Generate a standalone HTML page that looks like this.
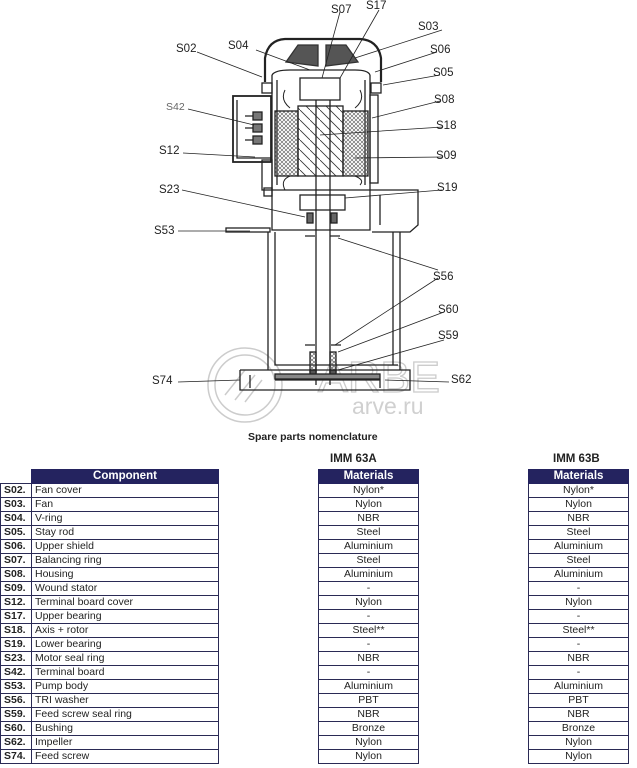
<!DOCTYPE html>
<html><head><meta charset="utf-8"><style>
html,body{margin:0;padding:0;background:#fff;width:637px;height:768px;overflow:hidden;position:relative;font-family:"Liberation Sans",sans-serif;}
.t{position:absolute;border-collapse:collapse;font-size:10.5px;color:#222;}
.t td{height:13px;padding:0 0 0 3px;border:1px solid #2a2a55;line-height:13px;white-space:nowrap;}
.t th{height:13px;background:#24235f;color:#fff;font-size:11.5px;border:1px solid #24235f;line-height:13px;padding:0;}
.c{text-align:center;padding:0!important}
.code{font-weight:bold;width:27px;}
.h{position:absolute;font-weight:bold;font-size:11.5px;color:#222;}
</style></head><body>
<svg width="637" height="450" style="position:absolute;left:0;top:0" xmlns="http://www.w3.org/2000/svg">
<defs>
<pattern id="x" width="4" height="4" patternUnits="userSpaceOnUse"><path d="M0 0L4 4M4 0L0 4" stroke="#555" stroke-width="0.6"/></pattern>
<pattern id="d" width="10" height="10" patternUnits="userSpaceOnUse"><path d="M0 0L10 10" stroke="#333" stroke-width="0.8"/></pattern>
</defs>
<g fill="none" stroke="#222" stroke-width="1.3">
<g stroke="#ccc" stroke-width="1.5">
<circle cx="245" cy="385" r="37"/><circle cx="245" cy="385" r="30"/>
<path d="M225 395 L245 370 M235 400 L255 375 M245 402 L262 380"/>
</g>
<text x="318" y="392" font-size="44" fill="none" stroke="#ccc" font-family="Liberation Sans" textLength="122" lengthAdjust="spacingAndGlyphs">ARBE</text>
<text x="352" y="414" font-size="23" fill="#d0d0d0" stroke="none" font-family="Liberation Sans">arve.ru</text>
<path d="M265 82 L265 58 Q268 40 285 39 L360 39 Q378 40 381 58 L381 82" stroke-width="2.2"/>
<path d="M286 62 L298 45 L318 45 L318 66 Z M358 62 L346 45 L326 45 L326 66 Z" fill="#555" stroke="#333"/>
<path d="M272 75 Q275 70 290 70 L355 70 Q368 70 370 75"/>
<rect x="262" y="83" width="10" height="10"/><rect x="371" y="83" width="10" height="10"/>
<path d="M272 75 L272 190 L370 190 L370 75"/>
<path d="M277 80 L277 185 M365 80 L365 185"/>
<rect x="300" y="78" width="40" height="22"/>
<rect x="275" y="111" width="23" height="65" fill="url(#x)"/>
<rect x="343" y="111" width="25" height="65" fill="url(#x)"/>
<rect x="298" y="106" width="45" height="70" fill="url(#d)"/>
<path d="M285 90 Q280 100 290 108 M285 190 Q280 180 290 176 M360 90 Q365 100 355 108 M360 185 Q365 180 355 176" stroke-width="1"/>
<rect x="370" y="95" width="8" height="88"/>
<rect x="233" y="96" width="38" height="66" stroke-width="1.8"/>
<path d="M237 100 L237 158 L271 158"/>
<rect x="253" y="112" width="9" height="8" fill="#777"/><rect x="253" y="124" width="9" height="8" fill="#777"/><rect x="253" y="136" width="9" height="8" fill="#777"/>
<path d="M245 116 L253 116 M245 128 L253 128 M245 140 L253 140"/>
<rect x="262" y="160" width="10" height="30"/>
<rect x="264" y="188" width="8" height="8"/>
<path d="M272 190 L272 230 L370 230 L370 190 M370 190 L418 190 L418 225 L410 232 L400 232 L400 370 M380 195 L380 225 M372 232 L400 232"/>
<path d="M268 232 L268 370 M275 232 L275 365 L398 365 M393 232 L393 365"/>
<rect x="226" y="228" width="44" height="4"/>
<rect x="300" y="195" width="45" height="15"/>
<rect x="307" y="213" width="6" height="10" fill="#666"/><rect x="331" y="213" width="6" height="10" fill="#666"/>
<path d="M305 236 L315 236 M330 236 L340 236"/>
<path d="M316 100 L316 385 M330 100 L330 385"/>
<path d="M305 345 L315 345 M331 345 L341 345"/>
<rect x="310" y="352" width="6" height="20" fill="url(#x)"/><rect x="330" y="352" width="6" height="20" fill="url(#x)"/>
<rect x="310" y="370" width="6" height="7" fill="#555"/><rect x="330" y="370" width="6" height="7" fill="#555"/>
<path d="M240 370 L240 390 L410 390 L410 370 L240 370"/>
<rect x="275" y="374" width="105" height="5" fill="#888"/>
<path d="M250 375 L250 388 M275 380 L380 380 L380 388"/>
<g stroke-width="0.8">
<path d="M197 52 L262 77 M256 50 L310 70 M340 12 L322 78 M379 10 L340 78 M442 30 L355 58 M437 52 L375 72 M440 75 L383 85 M440 101 L372 118 M443 127 L320 135 M443 157 L355 158 M442 190 L345 198 M188 109 L254 125 M183 153 L255 157 M182 190 L305 217 M178 231 L250 231 M438 270 L338 238 M438 278 L335 345 M444 312 L338 352 M444 340 L338 370 M449 382 L385 380 M178 382 L240 380"/>
</g>
</g>
<g font-family="Liberation Sans" font-size="11.5" fill="#222">
<text x="331" y="13">S07</text><text x="366" y="9">S17</text><text x="418" y="30">S03</text><text x="430" y="53">S06</text><text x="433" y="76">S05</text><text x="434" y="103">S08</text><text x="436" y="129">S18</text><text x="436" y="159">S09</text><text x="437" y="191">S19</text><text x="433" y="280">S56</text><text x="438" y="313">S60</text><text x="438" y="339">S59</text><text x="451" y="383">S62</text>
<text x="176" y="52">S02</text><text x="228" y="49">S04</text><text x="166" y="110" fill="#666" font-size="10.5">S42</text><text x="159" y="154">S12</text><text x="159" y="193">S23</text><text x="154" y="234">S53</text><text x="152" y="384">S74</text>
</g>
<text x="248" y="440" font-family="Liberation Sans" font-size="10.5" font-weight="bold" fill="#222">Spare parts nomenclature</text>
</svg>
<div class="h" style="left:330px;top:453px;">IMM 63A</div>
<div class="h" style="left:553px;top:453px;">IMM 63B</div>
<table class="t" style="left:0;top:469px;width:219px;">
<tr><th style="border:none;background:none;width:29px"></th><th>Component</th></tr>
<tr><td class="code">S02.</td><td>Fan cover</td></tr>
<tr><td class="code">S03.</td><td>Fan</td></tr>
<tr><td class="code">S04.</td><td>V-ring</td></tr>
<tr><td class="code">S05.</td><td>Stay rod</td></tr>
<tr><td class="code">S06.</td><td>Upper shield</td></tr>
<tr><td class="code">S07.</td><td>Balancing ring</td></tr>
<tr><td class="code">S08.</td><td>Housing</td></tr>
<tr><td class="code">S09.</td><td>Wound stator</td></tr>
<tr><td class="code">S12.</td><td>Terminal board cover</td></tr>
<tr><td class="code">S17.</td><td>Upper bearing</td></tr>
<tr><td class="code">S18.</td><td>Axis + rotor</td></tr>
<tr><td class="code">S19.</td><td>Lower bearing</td></tr>
<tr><td class="code">S23.</td><td>Motor seal ring</td></tr>
<tr><td class="code">S42.</td><td>Terminal board</td></tr>
<tr><td class="code">S53.</td><td>Pump body</td></tr>
<tr><td class="code">S56.</td><td>TRI washer</td></tr>
<tr><td class="code">S59.</td><td>Feed screw seal ring</td></tr>
<tr><td class="code">S60.</td><td>Bushing</td></tr>
<tr><td class="code">S62.</td><td>Impeller</td></tr>
<tr><td class="code">S74.</td><td>Feed screw</td></tr>
</table>
<table class="t" style="left:318px;top:469px;width:101px;">
<tr><th>Materials</th></tr>
<tr><td class="c">Nylon*</td></tr><tr><td class="c">Nylon</td></tr><tr><td class="c">NBR</td></tr><tr><td class="c">Steel</td></tr><tr><td class="c">Aluminium</td></tr><tr><td class="c">Steel</td></tr><tr><td class="c">Aluminium</td></tr><tr><td class="c">-</td></tr><tr><td class="c">Nylon</td></tr><tr><td class="c">-</td></tr><tr><td class="c">Steel**</td></tr><tr><td class="c">-</td></tr><tr><td class="c">NBR</td></tr><tr><td class="c">-</td></tr><tr><td class="c">Aluminium</td></tr><tr><td class="c">PBT</td></tr><tr><td class="c">NBR</td></tr><tr><td class="c">Bronze</td></tr><tr><td class="c">Nylon</td></tr><tr><td class="c">Nylon</td></tr>
</table>
<table class="t" style="left:528px;top:469px;width:101px;">
<tr><th>Materials</th></tr>
<tr><td class="c">Nylon*</td></tr><tr><td class="c">Nylon</td></tr><tr><td class="c">NBR</td></tr><tr><td class="c">Steel</td></tr><tr><td class="c">Aluminium</td></tr><tr><td class="c">Steel</td></tr><tr><td class="c">Aluminium</td></tr><tr><td class="c">-</td></tr><tr><td class="c">Nylon</td></tr><tr><td class="c">-</td></tr><tr><td class="c">Steel**</td></tr><tr><td class="c">-</td></tr><tr><td class="c">NBR</td></tr><tr><td class="c">-</td></tr><tr><td class="c">Aluminium</td></tr><tr><td class="c">PBT</td></tr><tr><td class="c">NBR</td></tr><tr><td class="c">Bronze</td></tr><tr><td class="c">Nylon</td></tr><tr><td class="c">Nylon</td></tr>
</table>
</body></html>
